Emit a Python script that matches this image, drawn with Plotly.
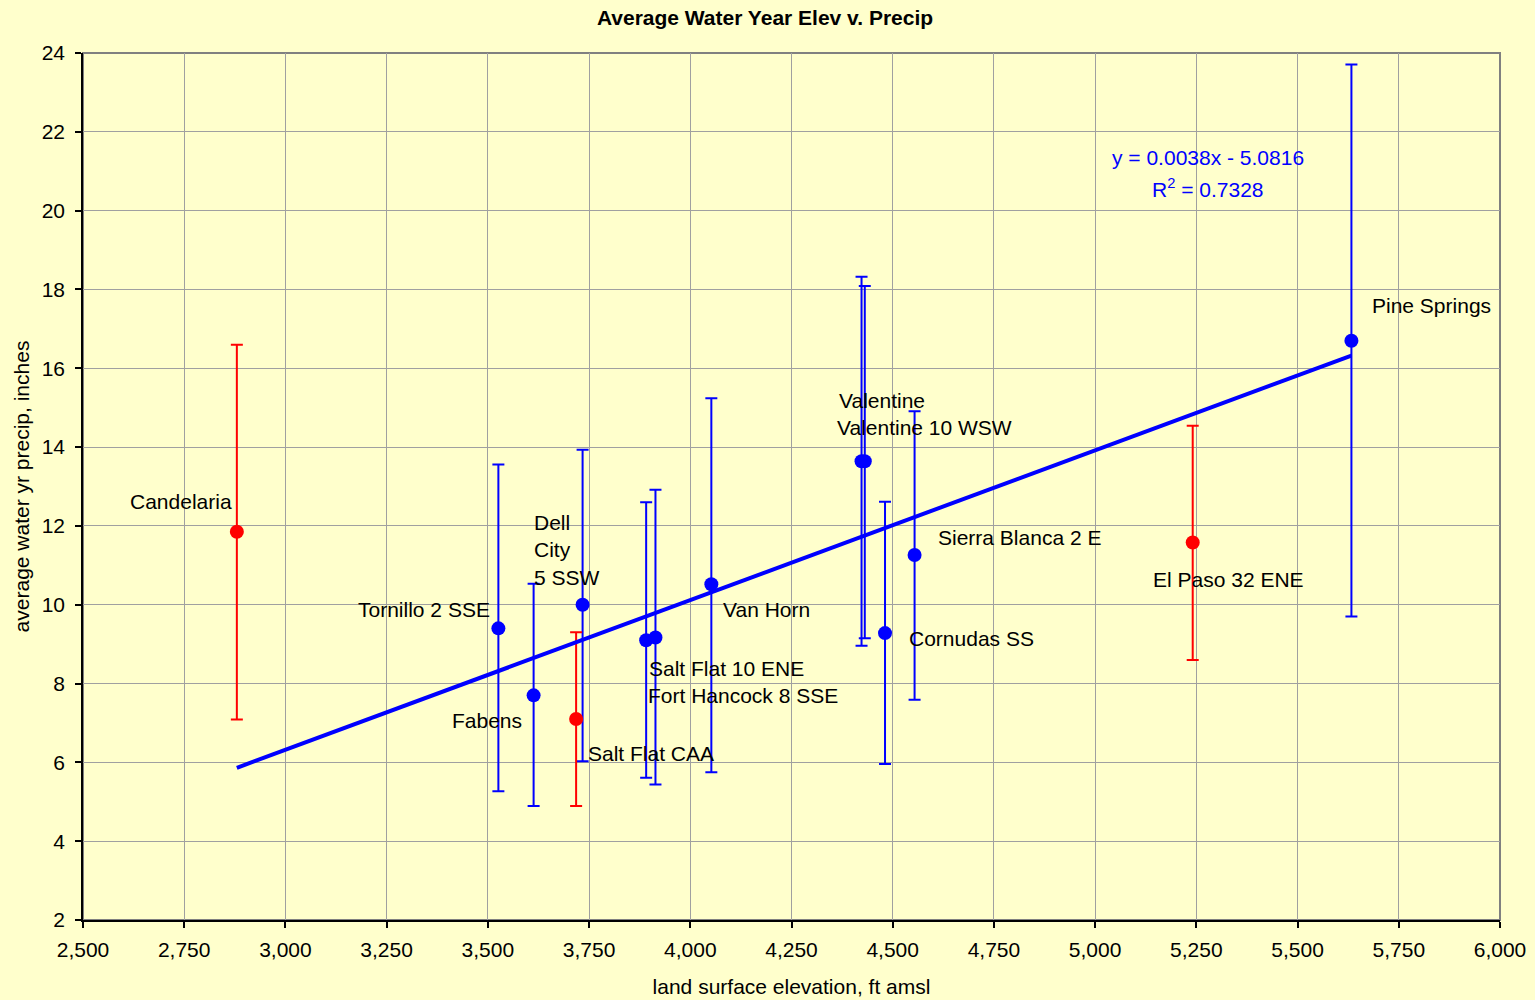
import plotly.graph_objects as go

# Station data: land surface elevation (ft amsl) and average water-year precipitation (inches)
stations = [
    "Candelaria", "Tornillo 2 SSE", "Fabens", "Salt Flat CAA", "Dell<br>City<br>5 SSW",
    "Salt Flat 10 ENE", "Fort Hancock 8 SSE", "Van Horn", "Valentine", "Valentine 10 WSW",
    "Cornudas SS", "Sierra Blanca 2 E", "El Paso 32 ENE", "Pine Springs",
]
elevation = [2880, 3526, 3613, 3718, 3734, 3891, 3914, 4052, 4423, 4431, 4481, 4554, 5241, 5633]
precip = [11.85, 9.40, 7.70, 7.10, 10.00, 9.10, 9.17, 10.52, 13.64, 13.64, 9.28, 11.26, 11.58, 16.70]
precip_high = [16.60, 13.56, 10.53, 9.30, 13.93, 12.60, 12.92, 15.24, 18.32, 18.09, 12.61, 14.91, 14.54, 23.71]
precip_low = [7.09, 5.27, 4.89, 4.89, 6.03, 5.61, 5.44, 5.75, 8.96, 9.15, 5.96, 7.59, 8.60, 9.70]
highlighted = [True, False, False, True, False, False, False, False, False, False, False, False, True, False]

# Linear trend fitted to the stations
slope = 0.0038
intercept = -5.0816
r_squared = 0.7328

x_ticks = [2500, 2750, 3000, 3250, 3500, 3750, 4000, 4250, 4500, 4750, 5000, 5250, 5500, 5750, 6000]
y_ticks = [2, 4, 6, 8, 10, 12, 14, 16, 18, 20, 22, 24]

# Label placement relative to each marker: (xanchor, xshift, yshift)
label_pos = [
    ("right", -3, 30), ("right", -6, 19), ("right", -10, -25), ("left", 10, -34),
    ("left", -51, 55), ("left", 1, -28), ("left", -9, -58), ("left", 10, -25),
    ("left", -25, 61), ("left", -30, 34), ("left", 22, -5), ("left", 21, 18),
    ("left", -42, -37), ("left", 19, 35),
]

BG = "#FFFFCC"
FONT = "Liberation Sans, Arial, sans-serif"
BLUE = "#0000FF"
RED = "#FF0000"
SIZE = 21

fig = go.Figure()

# One trace per colour group so the error bars take the marker colour
for flag, color in ((False, BLUE), (True, RED)):
    idx = [i for i, h in enumerate(highlighted) if h == flag]
    fig.add_trace(go.Scatter(
        x=[elevation[i] for i in idx],
        y=[precip[i] for i in idx],
        mode="markers",
        marker=dict(color=color, size=14),
        error_y=dict(
            type="data", symmetric=False,
            array=[precip_high[i] - precip[i] for i in idx],
            arrayminus=[precip[i] - precip_low[i] for i in idx],
            color=color, thickness=2, width=6,
        ),
        showlegend=False,
        hoverinfo="skip",
    ))

# Trend line across the elevation range
x_line = [min(elevation), max(elevation)]
fig.add_trace(go.Scatter(
    x=x_line,
    y=[slope * v + intercept for v in x_line],
    mode="lines",
    line=dict(color=BLUE, width=4),
    showlegend=False,
    hoverinfo="skip",
))

# Station names
for name, x, y, (anchor, dx, dy) in zip(stations, elevation, precip, label_pos):
    fig.add_annotation(
        x=x, y=y, text=name, showarrow=False,
        xanchor=anchor, yanchor="middle", xshift=dx, yshift=dy,
        align="left", font=dict(family=FONT, size=SIZE, color="black"),
    )

# Trend equation
fig.add_annotation(
    xref="paper", yref="paper", x=0.794, y=0.880,
    text=f"y = {slope:.4f}x - {abs(intercept):.4f}", showarrow=False,
    xanchor="center", yanchor="middle", font=dict(family=FONT, size=SIZE, color=BLUE),
)
fig.add_annotation(
    xref="paper", yref="paper", x=0.794, y=0.844,
    text=f"R<sup>2</sup> = {r_squared:.4f}", showarrow=False,
    xanchor="center", yanchor="middle", font=dict(family=FONT, size=SIZE, color=BLUE),
)

# Grey frame on top and right of the plot area
fig.add_shape(type="rect", xref="paper", yref="paper", x0=0, y0=0, x1=1, y1=1,
              line=dict(color="#808080", width=2), layer="below")

fig.update_layout(
    width=1535, height=1000,
    paper_bgcolor=BG, plot_bgcolor=BG,
    margin=dict(l=83, r=35, t=53, b=80),
    font=dict(family=FONT, size=SIZE, color="black"),
    title=dict(
        text="<b>Average Water Year Elev v. Precip</b>",
        x=765 / 1535, xref="container", xanchor="center",
        y=0.982, yref="container", yanchor="middle",
        font=dict(family=FONT, size=SIZE, color="black"),
    ),
)

fig.update_xaxes(
    range=[2500, 6000], tickvals=x_ticks, tickformat=",d",
    automargin=False,
    showgrid=True, gridcolor="#A0A0A0", gridwidth=1, zeroline=False,
    showline=True, linecolor="black", linewidth=1.5,
    ticks="outside", ticklen=6, tickcolor="black", tickwidth=1.5,
    ticklabelstandoff=4,
    tickfont=dict(family=FONT, size=SIZE),
    title=dict(text="land surface elevation, ft amsl", standoff=19,
               font=dict(family=FONT, size=SIZE)),
)
fig.update_yaxes(
    range=[2, 24], tickvals=y_ticks,
    automargin=False,
    showgrid=True, gridcolor="#A0A0A0", gridwidth=1, zeroline=False,
    showline=True, linecolor="black", linewidth=1.5,
    ticks="outside", ticklen=6, tickcolor="black", tickwidth=1.5,
    ticklabelstandoff=6,
    tickfont=dict(family=FONT, size=SIZE),
    title=dict(text="average water yr precip, inches", standoff=6,
               font=dict(family=FONT, size=SIZE)),
)

fig.write_html("out.html")
